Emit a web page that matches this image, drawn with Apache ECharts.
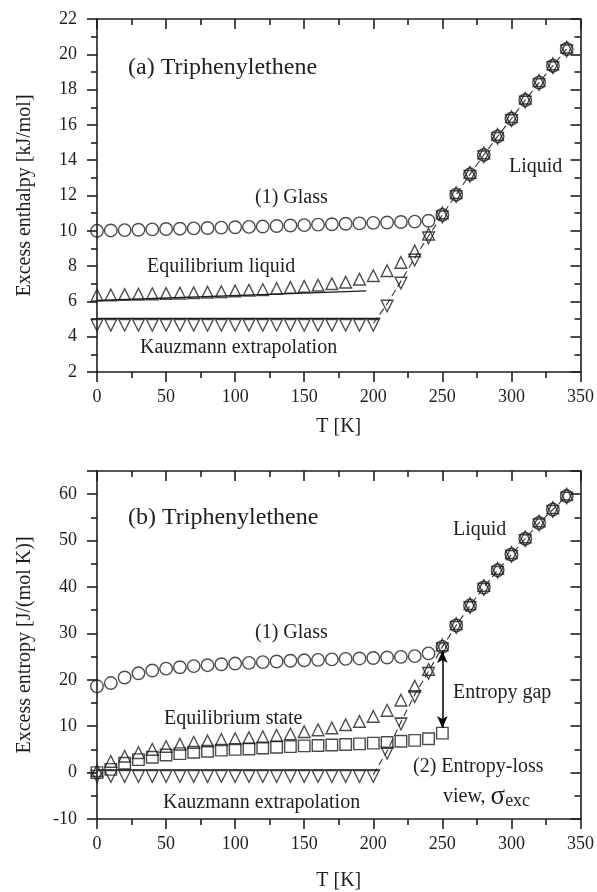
<!DOCTYPE html>
<html lang="en">
<head>
    <meta charset="UTF-8">
    <script src="https://cdn.jsdelivr.net/npm/echarts@6.0.0/dist/echarts.min.js"></script>
    <title>Triphenylethene</title>
    <style>
        html, body { margin: 0; padding: 0; background: #fff; }
        #chart { width: 597px; height: 892px; }
    </style>
</head>
<body>
<div id="chart"></div>
<script type="text/javascript">
    // temperatures [K]
    var lowT = [0, 10, 20, 30, 40, 50, 60, 70, 80, 90, 100, 110, 120, 130, 140, 150, 160, 170, 180, 190, 200, 210, 220, 230, 240];
    var liqT = [250, 260, 270, 280, 290, 300, 310, 320, 330, 340];

    // (a) excess enthalpy [kJ/mol]
    var glassH = [10.0, 10.02, 10.04, 10.06, 10.08, 10.1, 10.12, 10.14, 10.16, 10.18, 10.2, 10.22, 10.24, 10.27, 10.3, 10.32, 10.35, 10.37, 10.4, 10.42, 10.45, 10.47, 10.5, 10.52, 10.57];
    var eqH = [6.25, 6.26, 6.28, 6.3, 6.32, 6.34, 6.36, 6.38, 6.41, 6.44, 6.48, 6.52, 6.56, 6.62, 6.68, 6.74, 6.81, 6.89, 6.98, 7.15, 7.35, 7.63, 8.1, 8.75, 9.7];
    var kauzH = [4.76, 4.76, 4.76, 4.76, 4.76, 4.76, 4.76, 4.76, 4.76, 4.76, 4.76, 4.76, 4.76, 4.76, 4.76, 4.76, 4.76, 4.76, 4.76, 4.76, 4.76, 5.85, 7.15, 8.45, 9.71];
    var liqH = [10.9, 12.05, 13.2, 14.3, 15.35, 16.35, 17.4, 18.4, 19.35, 20.3];
    var eqFitH = [[0, 6.05], [195, 6.6]];
    var kauzFlatH = [[0, 5.03], [205, 5.03]];

    // (b) excess entropy [J/(mol K)]
    var glassS = [18.6, 19.3, 20.5, 21.4, 22.0, 22.4, 22.7, 22.95, 23.15, 23.35, 23.5, 23.65, 23.8, 23.95, 24.1, 24.2, 24.3, 24.4, 24.5, 24.6, 24.7, 24.8, 24.95, 25.1, 25.7];
    var eqS = [0, 2.0, 3.1, 3.9, 4.6, 5.2, 5.7, 6.1, 6.4, 6.7, 6.9, 7.1, 7.3, 7.6, 7.9, 8.4, 8.8, 9.2, 9.9, 10.6, 11.7, 13.0, 15.2, 18.2, 21.8];
    var kauzS = [-0.4, -0.4, -0.4, -0.4, -0.4, -0.4, -0.4, -0.4, -0.4, -0.4, -0.4, -0.4, -0.4, -0.4, -0.4, -0.4, -0.4, -0.4, -0.4, -0.4, -0.4, 4.6, 10.9, 16.8, 21.8];
    var liqS = [27.1, 31.7, 36.0, 39.9, 43.6, 47.0, 50.4, 53.8, 56.7, 59.6];
    var lossS = [0, 0.7, 2.0, 2.8, 3.3, 3.8, 4.1, 4.4, 4.6, 4.85, 5.0, 5.1, 5.3, 5.45, 5.6, 5.75, 5.85, 5.95, 6.05, 6.2, 6.35, 6.5, 6.75, 6.95, 7.3, 8.5];
    var kauzFlatS = [[0, 0.6], [205, 0.6]];
    var gapArrow = [250, 9.6, 26.2];

    var serif = 'Liberation Serif';
    var ink = '#1e1e1e';
    // equilateral triangles centred on their centroid (the extra zero-length segment balances the box)
    var triUp = 'path://M0,-10L8.66,5L-8.66,5Z M0,10L0,10';
    var triDown = 'path://M0,10L8.66,-5L-8.66,-5Z M0,-10L0,-10';
    var triSize = [13.5, 15.6];

    function pts(ts, vs) {
        return ts.map(function (t, i) { return [t, vs[i]]; });
    }
    function withLiquid(vs, liq) {
        return pts(lowT, vs).concat(pts(liqT, liq));
    }
    function fromT(arr, t0) {
        return arr.filter(function (p) { return p[0] >= t0; });
    }

    function openSym(name, sym, data, xi, size) {
        return {
            name: name, type: 'scatter', xAxisIndex: xi, yAxisIndex: xi,
            symbol: sym, symbolSize: size, symbolKeepAspect: true,
            itemStyle: { color: 'rgba(0,0,0,0)', borderColor: ink, borderWidth: 1.4 },
            data: data, z: 3
        };
    }
    function plainLine(data, xi, dashed) {
        return {
            type: 'line', xAxisIndex: xi, yAxisIndex: xi, symbol: 'none',
            lineStyle: { color: dashed ? '#333' : ink, width: dashed ? 1.1 : 1.3, type: dashed ? [7, 4] : 'solid' },
            data: data, z: 2
        };
    }
    // empty series so the mirror (top/right) axes get drawn
    function mirrorHolder(xi) {
        return { type: 'scatter', xAxisIndex: xi, yAxisIndex: xi, data: [], silent: true };
    }

    var tickStyle = { color: ink, width: 1.6 };

    function xMain(gi, nameGap) {
        return {
            gridIndex: gi, type: 'value', position: 'bottom', min: 0, max: 350, interval: 50,
            name: 'T [K]', nameLocation: 'middle', nameGap: nameGap,
            nameTextStyle: { fontFamily: serif, fontSize: 20, color: ink },
            axisLine: { onZero: false, lineStyle: tickStyle },
            axisTick: { inside: false, length: 10, lineStyle: tickStyle },
            minorTick: { show: true, splitNumber: 2, length: 6, lineStyle: tickStyle },
            axisLabel: { fontFamily: serif, fontSize: 18, color: ink, margin: 16 },
            splitLine: { show: false }
        };
    }
    function xMirror(gi) {
        return {
            gridIndex: gi, type: 'value', position: 'top', min: 0, max: 350, interval: 50,
            axisLine: { show: true, onZero: false, lineStyle: tickStyle },
            axisTick: { show: true, inside: true, length: 10, lineStyle: tickStyle },
            minorTick: { show: true, splitNumber: 2, length: 6, lineStyle: tickStyle },
            axisLabel: { show: false }, splitLine: { show: false }
        };
    }
    function yMain(gi, min, max, step, name) {
        return {
            gridIndex: gi, type: 'value', position: 'left', min: min, max: max, interval: step,
            name: name, nameLocation: 'middle', nameGap: 62,
            nameTextStyle: { fontFamily: serif, fontSize: 20, color: ink },
            axisLine: { show: true, onZero: false, lineStyle: tickStyle },
            axisTick: { show: true, inside: false, length: 10, lineStyle: tickStyle },
            minorTick: { show: true, splitNumber: 2, length: 6, lineStyle: tickStyle },
            axisLabel: {
                fontFamily: serif, fontSize: 18, color: ink, margin: 20,
                formatter: function (v) { return (v - min) % step === 0 ? String(v) : ''; }
            },
            splitLine: { show: false }
        };
    }
    function yMirror(gi, min, max, step) {
        return {
            gridIndex: gi, type: 'value', position: 'right', min: min, max: max, interval: step,
            axisLine: { show: true, onZero: false, lineStyle: tickStyle },
            axisTick: { show: true, inside: true, length: 10, lineStyle: tickStyle },
            minorTick: { show: true, splitNumber: 2, length: 6, lineStyle: tickStyle },
            axisLabel: { show: false }, splitLine: { show: false }
        };
    }

    function label(x, y, text, size) {
        return {
            type: 'text', x: x, y: y, z: 10,
            style: { text: text, fontFamily: serif, fontSize: size || 20, fill: ink, verticalAlign: 'middle' }
        };
    }

    var glassHData = withLiquid(glassH, liqH);
    var eqHData = withLiquid(eqH, liqH);
    var kauzHData = withLiquid(kauzH, liqH);
    var glassSData = withLiquid(glassS, liqS);
    var eqSData = withLiquid(eqS, liqS);
    var kauzSData = withLiquid(kauzS, liqS);
    var lossSData = pts(lowT.concat([250]), lossS);

    var chart = echarts.init(document.getElementById('chart'));
    var option = {
        animation: false,
        backgroundColor: '#fff',
        grid: [
            { left: 97, top: 19, right: 13, height: 353 },
            { left: 97, top: 471, right: 13, height: 352 }
        ],
        // axes 0,2 carry data; 1,3 are the mirrored frame (top / right)
        xAxis: [xMain(0, 45), xMirror(0), xMain(1, 52), xMirror(1)],
        yAxis: [
            yMain(0, 2, 22, 2, 'Excess enthalpy [kJ/mol]'), yMirror(0, 2, 22, 2),
            yMain(1, -10, 65, 10, 'Excess entropy [J/(mol K)]'), yMirror(1, -10, 65, 10)
        ],
        series: [
            mirrorHolder(1),
            mirrorHolder(3),

            plainLine(fromT(kauzHData, 200), 0, true),
            plainLine(eqFitH, 0, false),
            plainLine(kauzFlatH, 0, false),
            openSym('glass', 'circle', glassHData, 0, 12.5),
            openSym('equilibrium', triUp, eqHData, 0, triSize),
            openSym('kauzmann', triDown, kauzHData, 0, triSize),

            plainLine(fromT(kauzSData, 200), 2, true),
            plainLine(kauzFlatS, 2, false),
            openSym('glass', 'circle', glassSData, 2, 12.5),
            openSym('equilibrium', triUp, eqSData, 2, triSize),
            openSym('kauzmann', triDown, kauzSData, 2, triSize),
            (function () {
                var s = openSym('entropy loss', 'rect', lossSData, 2, 11.5);
                s.markLine = {
                    silent: true, symbol: ['arrow', 'arrow'], symbolSize: [8, 12],
                    label: { show: false },
                    lineStyle: { color: '#000', width: 1.5, type: 'solid' },
                    data: [[{ coord: [gapArrow[0], gapArrow[1]] }, { coord: [gapArrow[0], gapArrow[2]] }]]
                };
                return s;
            })()
        ],
        graphic: [
            label(128, 68, '(a) Triphenylethene', 24),
            label(255, 198, '(1) Glass'),
            label(509, 167, 'Liquid'),
            label(147, 267, 'Equilibrium liquid'),
            label(140, 348, 'Kauzmann extrapolation'),

            label(128, 518, '(b) Triphenylethene', 24),
            label(453, 530, 'Liquid'),
            label(255, 633, '(1) Glass'),
            label(453, 693, 'Entropy gap'),
            label(164, 719, 'Equilibrium state'),
            label(413, 767, '(2) Entropy-loss'),
            {
                type: 'text', x: 443, y: 797, z: 10,
                style: {
                    text: 'view, {s|σ}{b|exc}',
                    fontFamily: serif, fontSize: 20, fill: ink, verticalAlign: 'middle',
                    rich: {
                        s: { fontFamily: serif, fontSize: 27, fill: ink },
                        b: { fontFamily: serif, fontSize: 18, fill: ink, padding: [8, 0, 0, 0] }
                    }
                }
            },
            label(163, 803, 'Kauzmann extrapolation')
        ]
    };
    chart.setOption(option);
</script>
</body>
</html>
